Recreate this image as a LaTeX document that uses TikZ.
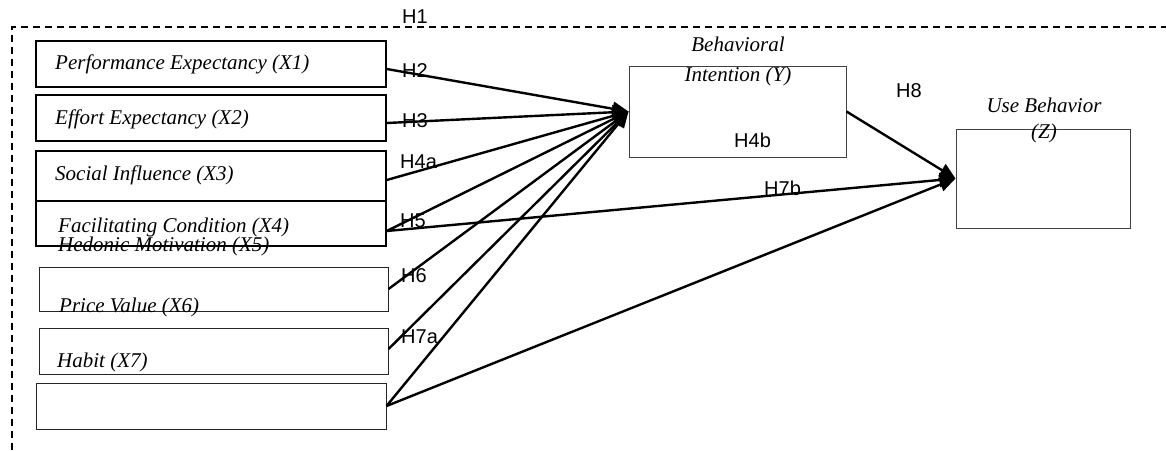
\documentclass[tikz,border=0pt]{standalone}
\usepackage{fontspec}
\setmainfont{Liberation Serif}
\setsansfont{Liberation Sans}
\usetikzlibrary{arrows.meta}

\begin{document}
\begin{tikzpicture}[
  x=1pt, y=-1pt, >={Triangle[length=16pt,width=14pt]},
  box/.style={draw=black, line width=1.5pt, minimum width=350pt, minimum height=46pt, inner sep=0pt},
  thinbox/.style={draw=black!85, line width=1pt, minimum width=349pt, minimum height=46pt, inner sep=0pt},
  construct/.style={draw=black!75, line width=1pt, inner sep=0pt},
  varlabel/.style={font=\fontsize{21}{27}\selectfont\itshape, inner sep=0pt, anchor=base west},
  hyp/.style={font=\sffamily\fontsize{20}{24}\selectfont, inner sep=0pt, anchor=base west},
  arrow/.style={->, line width=2.4pt, black}
]
\useasboundingbox (0,0) rectangle (1166,450);

% dashed frame round the model
\coordinate (fbl) at (12,450);
\coordinate (ftl) at (12,27);
\coordinate (ftr) at (1166,27);
\draw[line width=2pt, dash pattern=on 7pt off 5pt] (fbl) -- (ftl) -- (ftr);

% exogenous boxes
\node[box] (b1) at (211,64) {};
\node[box] (b2) at (211,118) {};
\node[box, minimum height=50pt] (b3) at (211,176) {};
\node[box, minimum height=45pt] (b4) at (211,223.5) {};
\node[thinbox, minimum height=44pt] (b5) at (213.5,289) {};
\node[thinbox] (b6) at (213.5,351) {};
\node[thinbox, minimum width=350pt] (b7) at (211,406) {};

% endogenous boxes
\node[construct, minimum width=217pt, minimum height=91pt] (bi) at (737.5,111.5) {};
\node[construct, minimum width=174pt, minimum height=99pt] (ub) at (1043,178.5) {};

% variable names
\node[varlabel] (t1) at (55,69) {Performance Expectancy (X1)};
\node[varlabel] (t2) at (55,124) {Effort Expectancy (X2)};
\node[varlabel] (t3) at (55,180) {Social Influence (X3)};
\node[varlabel] (t4) at (58,232) {Facilitating Condition (X4)};
\node[varlabel] (t5) at (58,251) {Hedonic Motivation (X5)};
\node[varlabel] (t6) at (59,312) {Price Value (X6)};
\node[varlabel] (t7) at (57,367) {Habit (X7)};
\node[varlabel, anchor=base] (ty1) at (738,51) {Behavioral};
\node[varlabel, anchor=base] (ty2) at (738,81) {Intention (Y)};
\node[varlabel, anchor=base] (tz1) at (1044,112) {Use Behavior};
\node[varlabel, anchor=base] (tz2) at (1044,138) {(Z)};

% paths
\draw[arrow] ([yshift=-5pt]b1.east) -- (bi.west);
\draw[arrow] ([yshift=-5pt]b2.east) -- (bi.west);
\draw[arrow] ([yshift=-4pt]b3.east) -- (bi.west);
\draw[arrow] ([yshift=-7.5pt]b4.east) -- (bi.west);
\draw[arrow] ([yshift=-7.5pt]b4.east) -- (ub.west);
\draw[arrow] (b5.east) -- (bi.west);
\draw[arrow] ([yshift=2pt]b6.east) -- (bi.west);
\draw[arrow] (b7.east) -- (bi.west);
\draw[arrow] (b7.east) -- (ub.west);
\draw[arrow] (bi.east) -- (ub.west);

% hypotheses
\node[hyp] (h1) at (402,23) {H1};
\node[hyp] (h2) at (402,77) {H2};
\node[hyp] (h3) at (402,127) {H3};
\node[hyp] (h4a) at (400,168) {H4a};
\node[hyp] (h5) at (400,227) {H5};
\node[hyp] (h6) at (401,282) {H6};
\node[hyp] (h7a) at (401,343) {H7a};
\node[hyp] (h4b) at (734,147) {H4b};
\node[hyp] (h7b) at (764,195) {H7b};
\node[hyp] (h8) at (896,97) {H8};

\end{tikzpicture}
\end{document}
